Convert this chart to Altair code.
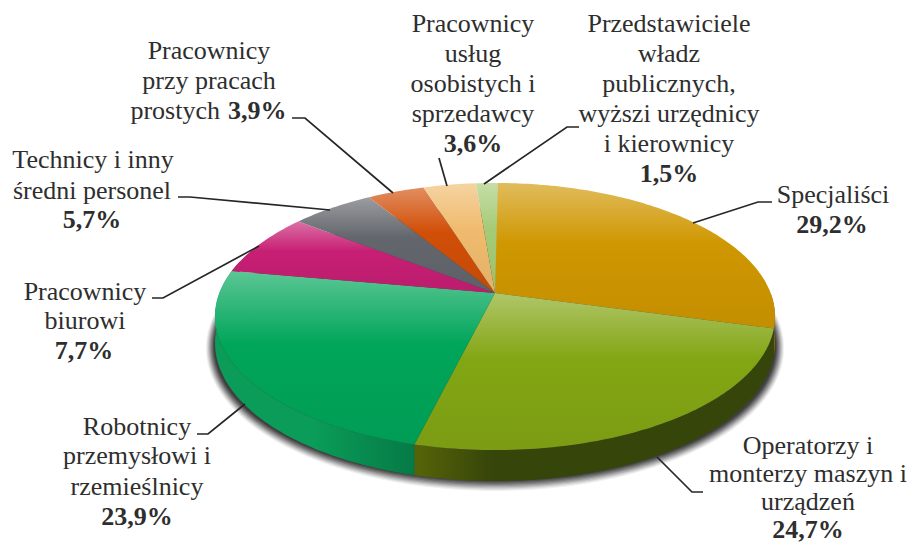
import math
import altair as alt
import pandas as pd

# ---- data ----
categories = ["Specjaliści", "Operatorzy i monterzy maszyn i urządzeń",
              "Robotnicy przemysłowi i rzemieślnicy", "Pracownicy biurowi",
              "Technicy i inny średni personel", "Pracownicy przy pracach prostych",
              "Pracownicy usług osobistych i sprzedawcy",
              "Przedstawiciele władz publicznych, wyżsi urzędnicy i kierownicy"]
values = [29.2, 24.7, 23.9, 7.7, 5.7, 3.9, 3.6, 1.5]
colors = ["#cf9700", "#83a614", "#00a65a", "#c71f74", "#63666c", "#d14f08", "#f0bb6e", "#a6cb76"]
side_left = ["#8a6500", "#566408", "#0a9c58", "#8a1550", "#44464a", "#8f3705", "#a8834d", "#75905a"]
side_right = ["#8a6500", "#36450a", "#067a45", "#8a1550", "#44464a", "#8f3705", "#a8834d", "#75905a"]

# ---- layout of the tilted pie, in page pixels ----
W, H = 901, 537
CX, CY = 495, 293
A, B, K = 275.6, 129.4, 0.176
HIDE = 8


def ring(theta, grow=0.0, drop=0.0):
    t = math.radians(theta)
    u, v = math.sin(t), -math.cos(t)
    w = 1 - K * v
    return [CX + (A + grow) * u / w, CY + (B + grow) * v / w + drop]


def depth(theta):
    return 25 - 6 * math.cos(math.radians(theta))


def arc_pts(a, b, **kw):
    n = max(2, int(abs(b - a)) + 2)
    return [ring(a + (b - a) * i / (n - 1), **kw) for i in range(n)]


def feature(points):
    return {"type": "Feature", "properties": {},
            "geometry": {"type": "Polygon", "coordinates": [points + [points[0]]]}}


def mix(color, other, f):
    c = [int(color[i:i + 2], 16) for i in (1, 3, 5)]
    o = [int(other[i:i + 2], 16) for i in (1, 3, 5)]
    return "#%02x%02x%02x" % tuple(round(x + (y - x) * f) for x, y in zip(c, o))


proj = alt.Projection(type="identity", scale=1, translate=[-HIDE, -HIDE])


def shape(points, fill, **kw):
    return alt.Chart(alt.Data(values=[feature(points)])).mark_geoshape(
        fill=fill, stroke=None, strokeWidth=0, **kw).project(**proj.to_dict())


layers = []

# soft shadow under the disc
for g, op in [(9, .06), (8, .08), (7, .10), (6, .12), (5, .14), (4, .16), (3, .18), (2, .2), (1, .22)]:
    pts = [[p[0], p[1] + 30] for p in arc_pts(0, 359, grow=g)]
    layers.append(shape(pts, "#000000", opacity=op))

# side wall
start = 0.0
edges = []
for v in values:
    edges.append((start, start + v * 3.6))
    start += v * 3.6
for (a, b), cl, cr in zip(edges, side_left, side_right):
    a2, b2 = max(a, 90), min(b, 285)
    if b2 <= a2:
        continue
    n = int(b2 - a2) + 2
    ths = [a2 + (b2 - a2) * i / (n - 1) for i in range(n)]
    top = [ring(t) for t in ths]
    bot = [ring(t, drop=depth(t)) for t in ths]
    if cl == cr:
        grad = cl
    elif cl == side_left[1]:
        # the olive wall is lit only next to its left end
        grad = {"gradient": "linear", "x1": 0, "y1": 0, "x2": 1, "y2": 0,
                "stops": [{"offset": 0, "color": cl}, {"offset": .22, "color": cr}, {"offset": 1, "color": cr}]}
    else:
        grad = {"gradient": "linear", "x1": 0, "y1": 0, "x2": 1, "y2": 0,
                "stops": [{"offset": 0, "color": cl}, {"offset": .5, "color": cl}, {"offset": 1, "color": cr}]}
    layers.append(shape(top + bot[::-1], grad))

# top face
for (a, b), c in zip(edges, colors):
    grad = {"gradient": "linear", "x1": 0, "y1": 0, "x2": 0, "y2": 1,
            "stops": [{"offset": 0, "color": mix(c, "#ffffff", .36)},
                      {"offset": .42, "color": c},
                      {"offset": 1, "color": mix(c, "#000000", .06)}]}
    layers.append(shape([[CX, CY]] + arc_pts(a, b), grad))

# leader lines
leaders = [
    [(772, 202), (758, 202), (693, 223)],
    [(703, 492), (692, 492), (657, 457)],
    [(197, 434), (208, 434), (245, 404)],
    [(152, 298), (163, 298), (259, 246)],
    [(178, 197), (190, 197), (330, 210)],
    [(292, 118), (305, 118), (393, 193)],
    [(439, 158), (447, 186)],
    [(579, 127), (567, 127), (484, 184)],
]
rows = []
for i, line in enumerate(leaders):
    for j, (x, y) in enumerate(line):
        rows.append({"leader": i, "step": j, "px": x, "py": y})

X = alt.X("px:Q", scale=alt.Scale(domain=[HIDE, HIDE + W], range=[0, W], nice=False, zero=False), axis=None)
Y = alt.Y("py:Q", scale=alt.Scale(domain=[HIDE, HIDE + H], range=[0, H], nice=False, zero=False), axis=None)

layers.append(alt.Chart(pd.DataFrame(rows)).mark_line(color="#262626", strokeWidth=1.7).encode(
    x=X, y=Y, detail="leader:N", order="step:Q"))

# text: (string, x, baseline y, align)
plain = [
    ("Pracownicy", 209, 59, "center"), ("przy pracach", 209, 89, "center"), ("prostych", 220, 119, "right"),
    ("Technicy i inny", 93, 168, "center"), ("średni personel", 92, 199, "center"),
    ("Pracownicy", 473, 32, "center"), ("usług", 473, 62, "center"), ("osobistych i", 473, 92, "center"),
    ("sprzedawcy", 473, 122, "center"),
    ("Przedstawiciele", 669, 32, "center"), ("władz", 669, 62, "center"), ("publicznych,", 669, 92, "center"),
    ("wyższi urzędnicy", 669, 122, "center"), ("i kierownicy", 669, 152, "center"),
    ("Specjaliści", 833, 203, "center"),
    ("Pracownicy", 85, 300, "center"), ("biurowi", 85, 329, "center"),
    ("Robotnicy", 137, 435, "center"), ("przemysłowi i", 137, 464, "center"), ("rzemieślnicy", 137, 495, "center"),
    ("Operatorzy i", 808, 454, "center"), ("monterzy maszyn i", 808, 482, "center"), ("urządzeń", 808, 510, "center"),
]
bold = [
    ("3,9%", 228, 119, "left"), ("5,7%", 92, 228, "center"), ("3,6%", 473, 152, "center"),
    ("1,5%", 669, 182, "center"), ("29,2%", 832, 233, "center"), ("7,7%", 84, 359, "center"),
    ("23,9%", 137, 525, "center"), ("24,7%", 808, 538, "center"),
]

for rowsset, weight in [(plain, "normal"), (bold, "bold")]:
    for align in ("center", "left", "right"):
        sub = [r for r in rowsset if r[3] == align]
        if not sub:
            continue
        df = pd.DataFrame(sub, columns=["label", "px", "py", "al"])
        layers.append(alt.Chart(df).mark_text(
            font="Liberation Serif", fontSize=26, fontWeight=weight, color="#2e2e2e",
            align=align, baseline="alphabetic").encode(x=X, y=Y, text="label:N"))

chart = alt.layer(*layers).properties(
    width=W, height=H, padding=0, autosize=alt.AutoSizeParams(type="none"), background="#ffffff"
).configure_view(stroke=None)

chart.save("out.html", embed_options={"renderer": "svg", "actions": False})
